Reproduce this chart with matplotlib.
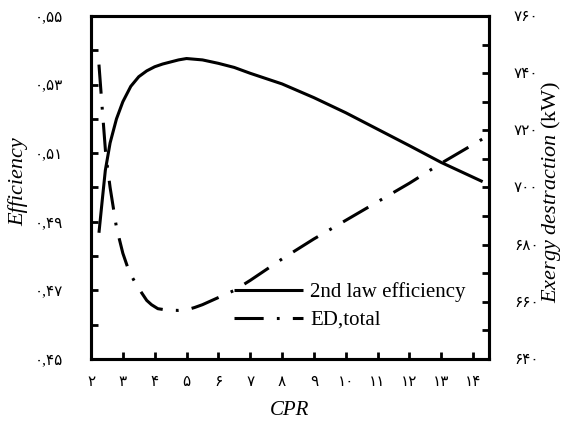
import matplotlib
matplotlib.use("Agg")
import matplotlib.pyplot as plt

plt.rcParams['font.family'] = ['Liberation Serif', 'DejaVu Sans']
plt.rcParams['mathtext.fontset'] = 'custom'
plt.rcParams['mathtext.rm'] = 'Liberation Serif'
plt.rcParams['mathtext.it'] = 'Liberation Serif:italic'
plt.rcParams['lines.scale_dashes'] = False

# ---- data ----
cpr_eff = [2.25, 2.35, 2.45, 2.6, 2.8, 3.0, 3.25, 3.5, 3.75, 4.0, 4.25, 4.5,
           4.75, 5.0, 5.5, 6.0, 6.5, 7.0, 8.0, 9.0, 10.0, 11.0, 12.0, 13.0, 14.3]
efficiency = [0.4868, 0.4960, 0.5050, 0.5130, 0.5200, 0.5250, 0.5295, 0.5323,
              0.5340, 0.5352, 0.5360, 0.5366, 0.5372, 0.5376, 0.5372, 0.5362,
              0.5350, 0.5333, 0.5302, 0.5262, 0.5218, 0.5170, 0.5122, 0.5073,
              0.5017]
cpr_ed = [2.25, 2.35, 2.46, 2.6, 2.8, 3.0, 3.2, 3.45, 3.75, 3.9, 4.1, 4.4, 4.75,
          5.0, 5.25, 5.5, 6.0, 6.5, 7.0, 8.0, 9.0, 10.0, 11.0, 12.0, 13.0, 14.3]
ed_total = [743, 728, 712, 700, 686, 677, 670.5, 665.5, 660.5, 659, 657.6,
            657.1, 657, 657.2, 658, 659, 661.5, 664, 667.5, 675, 682, 688.5,
            695, 701.5, 708.5, 717]

x_ticks = list(range(2, 15))
left_ticks = [0.45 + 0.01 * i for i in range(11)]
right_ticks = list(range(640, 761, 10))

fa = str.maketrans('0123456789', '۰۱۲۳۴۵۶۷۸۹')
def fa_num(s):
    return s.translate(fa)

fig = plt.figure(figsize=(5.63, 4.36), dpi=100)
ax = fig.add_axes([91/563, 1-359/436, (489-91)/563, (359-16)/436])
ax2 = ax.twinx()

l1, = ax.plot(cpr_eff, efficiency, color='black', lw=2.2, solid_capstyle='butt',
              solid_joinstyle='round')
dash = (0, (21, 9.5, 2, 9.5))
l2, = ax2.plot(cpr_ed, ed_total, color='black', lw=2.2, linestyle=dash,
               dash_capstyle='butt', dash_joinstyle='round')

ax.set_xlim(2, 14.5)
ax.set_ylim(0.45, 0.55)
ax2.set_ylim(640, 760)

ax.set_xticks(x_ticks)
ax.set_xticklabels([fa_num(str(v)) for v in x_ticks])
ax.set_yticks(left_ticks)
ax.set_yticklabels([fa_num('0,%02d' % round(v*100)) if round(v*100) % 2 == 1 else ''
                    for v in left_ticks])
ax2.set_yticks(right_ticks)
ax2.set_yticklabels([fa_num(str(v)) if v % 20 == 0 else '' for v in right_ticks])

for a in (ax, ax2):
    for s in a.spines.values():
        s.set_linewidth(2.2)
ax.tick_params(axis='x', direction='in', length=5, width=2, pad=12, labelsize=11)
ax.tick_params(axis='y', direction='in', length=5, width=2, pad=20, labelsize=11)
ax2.tick_params(axis='y', direction='in', length=5, width=2, pad=18, labelsize=11)

fig.text(18/563, 1-182/436, 'Efficiency', rotation=90, fontsize=16, style='italic',
         ha='center', va='center')
fig.text(551/563, 1-192/436, r'$Exergy\ destraction$ (kW)', rotation=90, fontsize=16,
         ha='center', va='center')
fig.text(290/563, 1-410/436, 'CPR', fontsize=15, style='italic', ha='center', va='center')

ax.legend([l1, l2], ['2nd law efficiency', 'ED,total'], frameon=False, fontsize=15,
          handlelength=3.3, handletextpad=0.35, labelspacing=0.4,
          loc='upper left', bbox_to_anchor=((234-91)/398, (359-282)/343),
          borderaxespad=0, borderpad=0)

fig.savefig('out.png', dpi=100)
